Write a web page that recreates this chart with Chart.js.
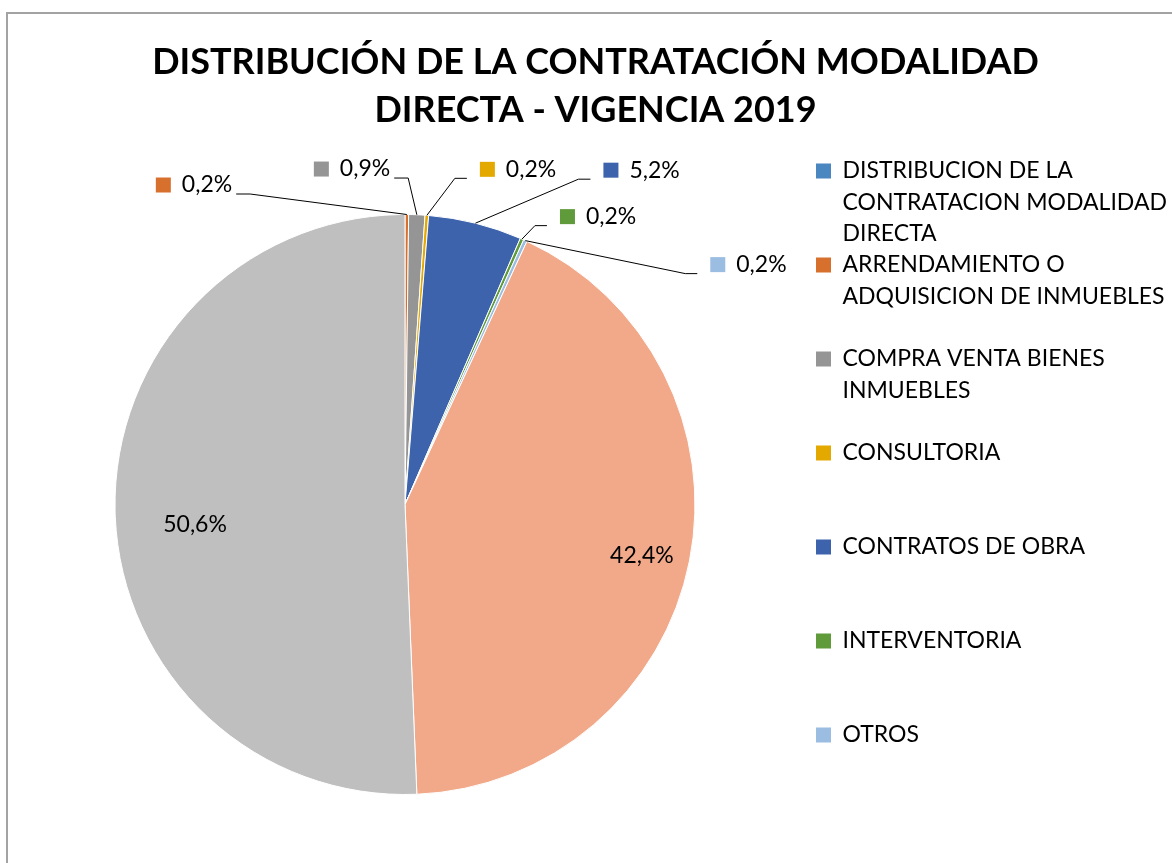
<!DOCTYPE html>
<html>
<head>
<meta charset="utf-8">
<script src="https://cdn.jsdelivr.net/npm/chart.js@4.4.1/dist/chart.umd.min.js"></script>
<style>
  body { margin: 0; background: #fff; }
  #wrap { position: relative; width: 1172px; height: 863px; overflow: hidden; }
  #frame { position: absolute; left: 6px; top: 12px; width: 1300px; height: 1000px; border: 2px solid #a3a3a3; box-sizing: border-box; }
  #c { position: absolute; left: -6px; top: 0; }
</style>
</head>
<body>
<div id="wrap">
  <div id="frame"></div>
  <canvas id="c" width="1178" height="863"></canvas>
</div>
<script>
var categories = [
  'DISTRIBUCION DE LA CONTRATACION MODALIDAD DIRECTA',
  'ARRENDAMIENTO O ADQUISICION DE INMUEBLES',
  'COMPRA VENTA BIENES INMUEBLES',
  'CONSULTORIA',
  'CONTRATOS DE OBRA',
  'INTERVENTORIA',
  'OTROS',
  'PRESTACION DE SERVICIOS PROFESIONALES',
  'PRESTACION DE SERVICIOS DE APOYO A LA GESTION'
];
var values = [0, 0.2, 0.9, 0.2, 5.2, 0.2, 0.2, 42.4, 50.6];
var colors = ['#4a86c0', '#d8702d', '#959595', '#e3a900', '#3c63ac', '#5f9a3b', '#9bbde1', '#f1a98a', '#bfbfbf'];
// legend text as wrapped in the picture (only the first 7 fit)
var legendLines = [
  ['DISTRIBUCION DE LA', 'CONTRATACION MODALIDAD', 'DIRECTA'],
  ['ARRENDAMIENTO O', 'ADQUISICION DE INMUEBLES'],
  ['COMPRA VENTA BIENES', 'INMUEBLES'],
  ['CONSULTORIA'],
  ['CONTRATOS DE OBRA'],
  ['INTERVENTORIA'],
  ['OTROS']
];
var titleLines = ['DISTRIBUCIÓN DE LA CONTRATACIÓN MODALIDAD', 'DIRECTA - VIGENCIA 2019'];

// label placement: offset from the slice's outer edge at mid angle
var labelOffsets = [null, [-251, -29.5], [-103, -45.7], [53, -46], [128, -53], [38, -22.5], [185, 24], [-47.5, -5.7], [80, 14]];
var insideLabel = [false, false, false, false, false, false, false, true, true];

// canvas sits 6px left of the page so the pie centre lands at x=405
var W = 1178, legendLeft = 822;
var legendFont = { family: 'Lato', size: 23, lineHeight: 94 / 3 / 23 };
var mctx = document.createElement('canvas').getContext('2d');
mctx.font = '23px Lato';
var maxW = 0;
legendLines.forEach(function(ls) { ls.forEach(function(s) { maxW = Math.max(maxW, mctx.measureText(s).width); }); });
var legendW = 15 + 23 / 2 + maxW + 10;
var padRight = W - legendLeft - legendW;

function pct(v) { return v.toFixed(1).replace('.', ',') + '%'; }

var labelPlugin = {
  id: 'sliceLabels',
  afterDatasetsDraw: function(chart) {
    var ctx = chart.ctx;
    var arcs = chart.getDatasetMeta(0).data;
    ctx.save();
    ctx.font = '23px Lato';
    ctx.textBaseline = 'middle';
    arcs.forEach(function(arc, i) {
      if (!values[i]) return;
      var p = arc.getProps(['x', 'y', 'startAngle', 'endAngle', 'outerRadius'], true);
      var mid = (p.startAngle + p.endAngle) / 2;
      var ex = p.x + Math.cos(mid) * p.outerRadius;
      var ey = p.y + Math.sin(mid) * p.outerRadius;
      var off = labelOffsets[i];
      var txt = pct(values[i]);
      if (insideLabel[i]) {
        ctx.fillStyle = '#000';
        ctx.textAlign = 'center';
        ctx.fillText(txt, ex + off[0], ey + off[1]);
        return;
      }
      var lx = ex + off[0], cy = ey + off[1];
      var tw = ctx.measureText(txt).width;
      var right = lx + 26 + tw;
      ctx.fillStyle = colors[i];
      ctx.fillRect(lx, cy - 7.5, 15, 15);
      ctx.fillStyle = '#000';
      ctx.textAlign = 'left';
      ctx.fillText(txt, lx + 26, cy);
      var ax, bx, ly = cy + 9;
      if ((lx + right) / 2 < ex) { ax = right + 4; bx = ax + 14; }
      else { ax = lx - 13; bx = ax - 12; }
      ctx.strokeStyle = '#000';
      ctx.lineWidth = 1;
      ctx.beginPath();
      ctx.moveTo(ex, ey);
      ctx.lineTo(bx, ly);
      ctx.lineTo(ax, ly);
      ctx.stroke();
    });
    ctx.restore();
  }
};

// centre the title over the whole frame, not over the padded area
var titleShift = {
  id: 'titleShift',
  afterLayout: function(chart) {
    var t = chart.titleBlock;
    t.left = 0; t.right = 1203; t.width = 1203;
  }
};

new Chart(document.getElementById('c'), {
  type: 'pie',
  data: {
    labels: categories,
    datasets: [{
      data: values,
      backgroundColor: colors,
      borderColor: '#ffffff',
      borderWidth: 1,
      radius: 290
    }]
  },
  options: {
    responsive: false,
    animation: false,
    layout: { padding: { left: 0, right: padRight, top: 0, bottom: 13.5 } },
    plugins: {
      title: {
        display: true,
        text: titleLines,
        color: '#000',
        font: { family: 'Lato', size: 36, weight: 'bold', lineHeight: 48 / 36 },
        padding: { top: 38, bottom: 25.5 }
      },
      legend: {
        position: 'right',
        align: 'start',
        fullSize: false,
        labels: {
          boxWidth: 15,
          boxHeight: 15,
          padding: 0,
          color: '#000',
          font: legendFont,
          generateLabels: function(chart) {
            return legendLines.map(function(ls, i) {
              var t = ls.slice();
              while (t.length < 3) t.push('');
              return { text: t, fillStyle: colors[i], strokeStyle: colors[i], lineWidth: 0, index: i, hidden: false };
            });
          }
        }
      },
      tooltip: { enabled: false }
    }
  },
  plugins: [labelPlugin, titleShift]
});
</script>
</body>
</html>
